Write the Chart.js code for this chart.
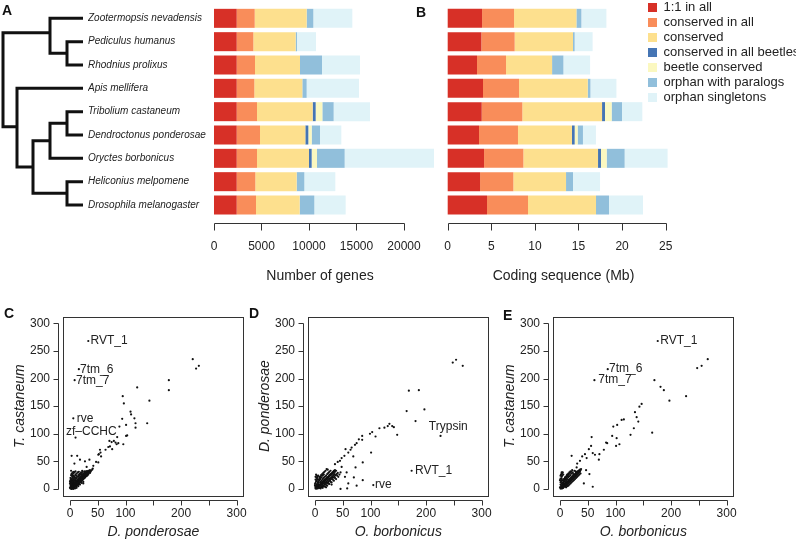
<!DOCTYPE html>
<html><head><meta charset="utf-8">
<script src="https://cdn.jsdelivr.net/npm/chart.js@4.4.1/dist/chart.umd.min.js"></script>
<style>
html,body{margin:0;padding:0;background:#fff;}
body{width:796px;height:546px;position:relative;overflow:hidden;font-family:"Liberation Sans",Arial,sans-serif;}
canvas{position:absolute;}
.pl{position:absolute;font:bold 14px "Liberation Sans",Arial,sans-serif;line-height:14px;color:#111;}
</style></head><body>
<canvas id="tree" width="88" height="230" style="left:0;top:0"></canvas>
<canvas id="chA" width="358" height="300" style="left:88px;top:0"></canvas>
<canvas id="chB" width="240" height="300" style="left:440px;top:0"></canvas>
<canvas id="leg" width="340" height="120" style="left:646px;top:-1px"></canvas>
<canvas id="chC" width="255" height="246" style="left:0;top:300px"></canvas>
<canvas id="chD" width="255" height="246" style="left:245px;top:300px"></canvas>
<canvas id="chE" width="255" height="246" style="left:490px;top:300px"></canvas>
<div class="pl" style="left:2px;top:3px">A</div>
<div class="pl" style="left:416px;top:5px">B</div>
<div class="pl" style="left:4px;top:306px">C</div>
<div class="pl" style="left:249px;top:306px">D</div>
<div class="pl" style="left:503px;top:308px">E</div>
<script>
// ---------- data ----------
const species = ['Zootermopsis nevadensis','Pediculus humanus','Rhodnius prolixus','Apis mellifera','Tribolium castaneum','Dendroctonus ponderosae','Oryctes borbonicus','Heliconius melpomene','Drosophila melanogaster'];
const seriesNames = ['1:1 in all','conserved in all','conserved','conserved in all beetles','beetle conserved','orphan with paralogs','orphan singletons'];
const seriesColors = ['#d73027','#f98d5a','#fde08e','#4575b4','#fbf8c0','#91bfdb','#e0f3f8'];

// Panel A: number of genes
const genesOne2One    = [2390,2390,2390,2390,2390,2390,2390,2390,2390];
const genesConsAll    = [1895,1750,1926,1855,2136,2452,2136,1960,2031];
const genesConserved  = [5470,4456,4736,5053,5860,4772,5474,4351,4596];
const genesConsBeetles= [0,0,0,0,316,316,281,0,0];
const genesBeetleCons = [0,0,0,0,702,351,561,0,0];
const genesOrphanPar  = [700,140,2316,456,1192,877,2912,808,1544];
const genesOrphanSing = [4105,2000,4000,5509,3825,2246,9404,3263,3299];

// Panel B: coding sequence (Mb)
const mbOne2One    = [3.94,3.86,3.36,4.05,3.90,3.59,4.17,3.71,4.51];
const mbConsAll    = [3.67,3.82,3.33,4.13,4.66,4.47,4.51,3.82,4.70];
const mbConserved  = [7.15,6.69,5.28,7.88,9.14,6.19,8.56,6.04,7.80];
const mbConsBeetles= [0,0,0,0,0.34,0.31,0.34,0,0];
const mbBeetleCons = [0,0,0,0,0.76,0.34,0.65,0,0];
const mbOrphanPar  = [0.57,0.19,1.30,0.31,1.19,0.61,2.06,0.80,1.49];
const mbOrphanSing = [2.87,2.06,3.06,2.98,2.33,1.49,4.93,3.10,3.90];

const genesTicks = [0,5000,10000,15000,20000];
const mbTicks = [0,5,10,15,20,25];
const scatterTicks = [0,50,100,150,200,250,300];
const scatterXLabelsShown = [0,50,100,200,300];

// Tree (depth units, species row index)
const treePaths = [
  [[80,0],[47,0],[47,1.5],[64,1.5]],
  [[80,1],[64,1],[64,2],[80,2]],
  [[47,0.62],[0,0.62],[0,4.65],[14,4.65]],
  [[80,3],[14,3],[14,6.375],[30,6.375]],
  [[47,5.25],[30,5.25],[30,7.5],[64,7.5]],
  [[64,4.5],[47,4.5],[47,6],[80,6]],
  [[80,4],[64,4],[64,5],[80,5]],
  [[80,7],[64,7],[64,8],[80,8]]
];

// Panel C: D. ponderosae (x) vs T. castaneum (y)
const cPoints = [[33,268],[16,217],[8.4,197],[6,128],[10,93],
 [221,235],[227,218],[232,223],[178,197],[178,179],[121,184],[143,160],[95,168],[97,155],[109,140],[110,135],[116,128],[118,119],[139,119],[94,127],[89,113],[101,116],[118,111],[103,97],[101,96],[85,94],[82,84],[84,81],[87,83],[96,81],[71,87],[64,71],[72,77],[76,72],[54,71],[51,62],[56,59],[51,48],[47,49],[42,42],[35,53],[3,60],[13,60],[18,53],[27,50],[30,40],[7,31],[36,34],[41,37],[8,46],[17,16],[24,10],[52,63],[55,66],[69,76],[75,85],[79,87],
 [1,1],[2,1],[3,2],[2,3],[4,4],[5,3],[3,5],[6,6],[5,7],[7,5],[8,8],[7,9],[9,7],[10,10],[9,11],[11,9],[12,12],[11,13],[13,11],[14,14],[13,15],[15,13],[16,16],[15,17],[17,15],[18,18],[17,19],[19,17],[20,20],[19,22],[21,19],[22,22],[21,24],[23,21],[24,24],[23,26],[25,23],[26,26],[25,28],[27,25],[28,28],[27,30],[29,27],[30,30],[29,32],[31,29],[32,32],[33,30],[34,33],[35,31],
 [2,6],[3,8],[4,10],[1,12],[2,15],[3,18],[1,20],[4,22],[2,25],[3,28],[5,30],[2,33],[6,12],[8,15],[6,18],[9,20],[7,24],[10,26],[12,28],[14,30],[16,31],[18,27],[20,30],[22,33],[4,1],[6,2],[8,3],[10,4],[12,6],[14,8],[16,10],[18,12],[20,14],[22,16],[24,18],[26,20],[28,22],[30,25],[32,27],[36,29],[38,33],[40,35],[1,5],[5,10],[7,14],[10,16],[12,19],[15,22],[17,24],[20,26],[24,28],[26,32],[11,5],[13,7],[15,9],[17,11],[19,13],[21,15],[23,17],[25,19],[27,21],[29,23],[31,24],[33,26],[0,2],[1,8],[0,14],[2,18],[4,26],[6,28],[8,30],[10,32],[3,12],[5,16],[8,22],[11,24],[3,0],[6,0],[9,1],[12,2],[15,5],[18,8],[21,11],[24,13],
 [2,2],[4,3],[5,5],[7,7],[9,9],[11,11],[13,13],[15,15],[17,17],[19,19],[21,21],[23,23],[25,25],[27,27],[29,29],[31,31],[33,33],[4,7],[6,9],[8,11],[10,13],[12,15],[14,17],[16,19],[18,21],[20,23],[22,25],[24,26],[26,28],[28,30],[30,32],[6,4],[8,5],[10,7],[12,9],[14,11],[16,13],[18,15],[20,17],[22,19],[24,21],[26,23],[28,25],[30,27],[32,29],[34,30],[3,14],[5,20],[4,24],[6,22],[1,16],[0,10],[2,9],[5,13],[7,16],[9,18],[11,20],[13,22],[15,25],[17,27],[19,28],[21,29],[23,31],[9,5],[13,9],[17,13],[21,17],[25,21],[29,25],[33,28],[37,31]];
const cLabelText = ['RVT_1','7tm_6','7tm_7','rve','zf\u2013CCHC'];
const cLabelX = [37,18,10.8,12,-7.2];
const cLabelY = [268,216.7,197,128,103.8];

// Panel D: O. borbonicus (x) vs D. ponderosae (y)
const dPoints = [[226,96],[174,33],[105,7],
 [248,229],[254,234],[266,223],[169,178],[187,179],[197,144],[165,141],[181,123],[134,118],[131,114],[139,114],[142,112],[125,111],[148,98],[116,110],[103,103],[99,100],[109,95],[101,66],[85,96],[85,89],[79,90],[75,83],[72,80],[66,75],[64,71],[60,66],[55,72],[53,60],[48,56],[45,51],[41,49],[36,45],[48,40],[69,59],[73,39],[70,21],[86,48],[57,30],[60,10],[86,16],[58,1],[46,0],[24,10],[75,6],[54,22],
 [1,1],[2,2],[3,1],[4,3],[5,4],[6,5],[7,5],[8,7],[9,8],[10,8],[11,10],[12,10],[13,12],[14,12],[15,14],[16,14],[17,16],[18,15],[19,17],[20,18],[21,19],[22,20],[23,21],[24,22],[25,23],[26,24],[27,25],[28,25],[29,27],[30,28],[31,29],[32,30],[33,31],[34,33],[36,34],
 [2,5],[3,8],[1,11],[2,14],[4,17],[3,20],[5,23],[2,26],[6,9],[7,12],[8,16],[9,19],[10,22],[11,25],[13,27],[15,29],[17,31],[19,33],[21,36],[23,35],
 [5,1],[7,2],[9,3],[11,4],[13,5],[15,6],[17,8],[19,9],[21,11],[23,12],[25,14],[27,16],[29,18],[31,20],[33,21],[35,23],[37,25],[39,27],[41,29],[14,2],[18,4],[22,6],[26,9],[30,12],[34,15],[38,18],[42,22],
 [12,15],[14,18],[16,20],[18,22],[20,24],[22,27],[24,29],[26,31],[28,33],[10,13],[6,7],[4,6],[1,3],[0,6],[1,17],[3,24],[0,9],
 [2,1],[3,3],[5,3],[6,6],[8,6],[9,7],[10,10],[12,11],[13,10],[14,13],[16,15],[17,14],[18,17],[20,17],[21,18],[22,21],[24,21],[25,22],[26,25],[28,27],[30,26],[32,28],[34,30],[36,31],[38,33],[4,9],[5,12],[6,14],[7,17],[8,20],[9,22],[3,15],[4,20],[6,24],[1,22],[10,18],[12,21],[14,24],[16,26],[11,7],[13,8],[15,10],[17,11],[19,12],[21,14],[23,16],[25,18],[27,19],[29,21],[31,23],[33,25],[35,27],[8,2],[12,3],[16,5],[20,7],[24,10],[28,13],[32,17],[36,20],[40,24],[10,1],[20,3],[30,8],[44,26],[46,30]];
const dLabelText = ['Trypsin','RVT_1','rve'];
const dLabelX = [205,180,108];
const dLabelY = [113,32.6,7.2];

// Panel E: O. borbonicus (x) vs T. castaneum (y)
const ePoints = [[176,268],[86,217],[62,197],
 [266,235],[255,223],[247,219],[170,197],[181,185],[187,179],[227,168],[197,160],[147,154],[143,149],[135,139],[138,130],[141,122],[133,110],[127,98],[166,102],[115,126],[111,125],[103,116],[96,113],[94,96],[102,92],[107,81],[101,78],[85,83],[83,84],[79,71],[71,63],[70,53],[57,94],[56,78],[52,72],[59,65],[63,62],[48,56],[45,63],[40,59],[36,51],[31,46],[21,60],[30,39],[47,34],[53,27],[59,4],[43,10],[14,24],[3,30],
 [1,1],[2,2],[3,2],[4,4],[5,5],[6,5],[7,7],[8,8],[9,8],[10,10],[11,11],[12,11],[13,13],[14,14],[15,14],[16,16],[17,17],[18,17],[19,19],[20,20],[21,20],[22,22],[23,23],[24,23],[25,25],[26,26],[27,26],[28,28],[29,29],[30,29],[31,31],[32,32],[34,33],[36,35],[38,36],
 [2,5],[1,8],[3,10],[2,13],[4,16],[1,19],[3,22],[2,26],[4,29],[6,11],[8,14],[10,17],[12,20],[14,23],[16,26],[18,29],[20,31],[22,34],[5,8],[7,10],[9,13],[11,16],[13,18],[15,21],[17,23],[19,25],[21,28],[23,30],
 [4,1],[6,2],[8,4],[10,5],[12,7],[14,9],[16,11],[18,13],[20,15],[22,17],[24,19],[26,21],[28,23],[30,25],[32,27],[34,29],[36,31],[11,3],[15,6],[19,10],[23,14],[27,18],[31,22],[35,26],
 [0,3],[1,12],[0,16],[3,27],[5,30],[7,18],[9,21],[26,33],[24,27],[28,32],
 [2,1],[3,3],[5,4],[6,6],[8,7],[9,9],[10,9],[12,12],[13,12],[14,13],[16,15],[17,16],[18,18],[20,19],[21,21],[22,21],[24,24],[25,24],[26,25],[28,27],[29,28],[30,30],[32,31],[33,31],[35,34],[37,34],[3,6],[4,9],[5,11],[6,14],[7,15],[8,17],[9,19],[10,20],[11,22],[12,24],[13,26],[15,28],[17,30],[19,32],[6,3],[8,5],[10,7],[12,9],[14,10],[16,12],[18,14],[20,16],[22,18],[24,20],[26,22],[28,24],[30,26],[32,28],[34,31],[2,16],[3,19],[1,24],[4,24],[6,26],[13,5],[17,8],[21,12],[25,16],[29,20],[33,24],[37,28]];
const eLabelText = ['RVT_1','7tm_6','7tm_7'];
const eLabelX = [180.6,88.2,69];
const eLabelY = [268,218.5,197.4];

// ---------- setup ----------
Chart.defaults.font.family = '"Liberation Sans", Arial, sans-serif';
Chart.defaults.color = '#222';
Chart.defaults.animation = false;
Chart.defaults.responsive = false;
Chart.defaults.devicePixelRatio = 1;
Chart.defaults.events = [];
Chart.defaults.plugins.legend.display = false;
Chart.defaults.plugins.tooltip.enabled = false;

function rAxes(specs, box) {
  return { id: 'rAxes', afterDraw(chart) {
    const ctx = chart.ctx, ca = chart.chartArea;
    ctx.save(); ctx.strokeStyle = '#333'; ctx.lineWidth = 1;
    specs.forEach(s => {
      const sc = chart.scales[s.id];
      const px = s.values.map(v => Math.round(sc.getPixelForValue(v)) + 0.5);
      ctx.beginPath();
      if (sc.isHorizontal()) {
        const y = Math.round(ca.bottom + s.gap) + 0.5;
        ctx.moveTo(px[0], y); ctx.lineTo(px[px.length-1], y);
        px.forEach(x => { ctx.moveTo(x, y); ctx.lineTo(x, y + s.len); });
      } else {
        const x = Math.round(ca.left - s.gap) - 0.5;
        ctx.moveTo(x, px[0]); ctx.lineTo(x, px[px.length-1]);
        px.forEach(y => { ctx.moveTo(x, y); ctx.lineTo(x - s.len, y); });
      }
      ctx.stroke();
    });
    if (box) ctx.strokeRect(Math.round(ca.left)+0.5, Math.round(ca.top)+0.5, Math.round(ca.right-ca.left), Math.round(ca.bottom-ca.top));
    ctx.restore();
  }};
}

function pointLabels(xs, ys, texts) {
  return { id: 'ptLabels', afterDatasetsDraw(chart) {
    const ctx = chart.ctx, sx = chart.scales.x, sy = chart.scales.y;
    ctx.save(); ctx.font = '12px "Liberation Sans", Arial, sans-serif'; ctx.fillStyle = '#222';
    ctx.textBaseline = 'middle'; ctx.textAlign = 'left';
    texts.forEach((t, i) => ctx.fillText(t, sx.getPixelForValue(xs[i]), sy.getPixelForValue(ys[i])));
    ctx.restore();
  }};
}

// Tree
new Chart(document.getElementById('tree'), {
  type: 'scatter',
  data: { datasets: treePaths.map(p => ({ data: p.map(q => ({x: q[0], y: q[1]})), showLine: true, borderColor: '#111', borderWidth: 3, pointRadius: 0, clip: false, borderCapStyle: 'butt', borderJoinStyle: 'miter', tension: 0 })) },
  options: { layout: { padding: { left: 3, right: 5, top: 6.67, bottom: 13.33 } },
    scales: { x: { type: 'linear', min: 0, max: 80, display: false }, y: { type: 'linear', min: -0.5, max: 8.5, reverse: true, display: false } } }
});

function barDatasets(arrs) {
  return arrs.map((a, i) => ({ label: seriesNames[i], data: a, backgroundColor: seriesColors[i], borderWidth: 0, barPercentage: 0.815, categoryPercentage: 1, clip: false }));
}

function barOptions(maxV, ticksVals, title, showY, padLeft, padRight) {
  const y = { type: 'category', stacked: true, display: showY, offset: true,
    ticks: { crossAlign: 'far', padding: 0, font: { size: 10, style: 'italic' }, color: '#222' },
    grid: { display: false, drawTicks: false }, border: { display: false } };
  if (showY) y.afterFit = s => { s.width = 126; };
  return {
    indexAxis: 'y',
    layout: { padding: { top: 6.67, bottom: 0, left: padLeft, right: padRight } },
    scales: {
      x: { type: 'linear', stacked: true, min: 0, max: maxV,
        afterBuildTicks(s) { s.ticks = ticksVals.map(v => ({value: v})); },
        ticks: { autoSkip: false, includeBounds: false, padding: 1, font: { size: 12 }, color: '#222', callback: v => String(v) },
        grid: { display: false, drawTicks: true, tickLength: 22 }, border: { display: false },
        title: { display: true, text: title, font: { size: 14 }, color: '#222', padding: { top: 0, bottom: 15.6 } },
        afterFit(s) { s.height = 83.33; } },
      y: y
    }
  };
}

new Chart(document.getElementById('chA'), {
  type: 'bar',
  data: { labels: species, datasets: barDatasets([genesOne2One, genesConsAll, genesConserved, genesConsBeetles, genesBeetleCons, genesOrphanPar, genesOrphanSing]) },
  options: barOptions(22316, genesTicks, 'Number of genes', true, 0, 20),
  plugins: [rAxes([{ id: 'x', values: genesTicks, gap: 6.3, len: 7 }], false)]
});

new Chart(document.getElementById('chB'), {
  type: 'bar',
  data: { labels: species, datasets: barDatasets([mbOne2One, mbConsAll, mbConserved, mbConsBeetles, mbBeetleCons, mbOrphanPar, mbOrphanSing]) },
  options: barOptions(26.56, mbTicks, 'Coding sequence (Mb)', false, 7.7, 0.7),
  plugins: [rAxes([{ id: 'x', values: mbTicks, gap: 6.3, len: 7 }], false)]
});

// Legend
new Chart(document.getElementById('leg'), {
  type: 'bar',
  data: { labels: [], datasets: seriesNames.map((n, i) => ({ label: n, data: [], backgroundColor: seriesColors[i], borderWidth: 0 })) },
  options: { layout: { padding: 0 },
    scales: { x: { display: false }, y: { display: false } },
    plugins: { legend: { display: true, position: 'left', align: 'start',
      labels: { boxWidth: 9, boxHeight: 9, padding: 2, font: { size: 13 }, color: '#222' } } } }
});

function scatterChart(id, pts, xTitle, yTitle, lx, ly, lt) {
  new Chart(document.getElementById(id), {
    type: 'scatter',
    data: { datasets: [{ data: pts.map(p => ({x: p[0], y: p[1]})), pointRadius: 1.1, pointBackgroundColor: '#111', pointBorderWidth: 0, clip: false }] },
    options: {
      layout: { padding: { top: 16.7, right: 11.7, left: 0, bottom: 0 } },
      scales: {
        x: { type: 'linear', min: -12, max: 312,
          afterBuildTicks(s) { s.ticks = scatterTicks.map(v => ({value: v})); },
          ticks: { autoSkip: false, padding: 1, font: { size: 12 }, color: '#222',
            callback: v => scatterXLabelsShown.includes(v) ? String(v) : '' },
          grid: { display: false, drawTicks: true, tickLength: 10.2 }, border: { display: false },
          title: { display: true, text: xTitle, font: { size: 14, style: 'italic' }, color: '#222', padding: { top: 0, bottom: 5.6 } },
          afterFit(s) { s.height = 50.4; } },
        y: { type: 'linear', min: -12, max: 312,
          afterBuildTicks(s) { s.ticks = scatterTicks.map(v => ({value: v})); },
          ticks: { autoSkip: false, padding: 1, font: { size: 12 }, color: '#222' },
          grid: { display: false, drawTicks: true, tickLength: 12.3 }, border: { display: false },
          title: { display: true, text: yTitle, font: { size: 14, style: 'italic' }, color: '#222', padding: { top: 11.5, bottom: 0 } },
          afterFit(s) { s.width = 63.3; } }
      }
    },
    plugins: [rAxes([{ id: 'x', values: scatterTicks, gap: 4.5, len: 5 }, { id: 'y', values: scatterTicks, gap: 4.3, len: 5 }], true), pointLabels(lx, ly, lt)]
  });
}

scatterChart('chC', cPoints, 'D. ponderosae', 'T. castaneum', cLabelX, cLabelY, cLabelText);
scatterChart('chD', dPoints, 'O. borbonicus', 'D. ponderosae', dLabelX, dLabelY, dLabelText);
scatterChart('chE', ePoints, 'O. borbonicus', 'T. castaneum', eLabelX, eLabelY, eLabelText);
</script>
</body></html>
